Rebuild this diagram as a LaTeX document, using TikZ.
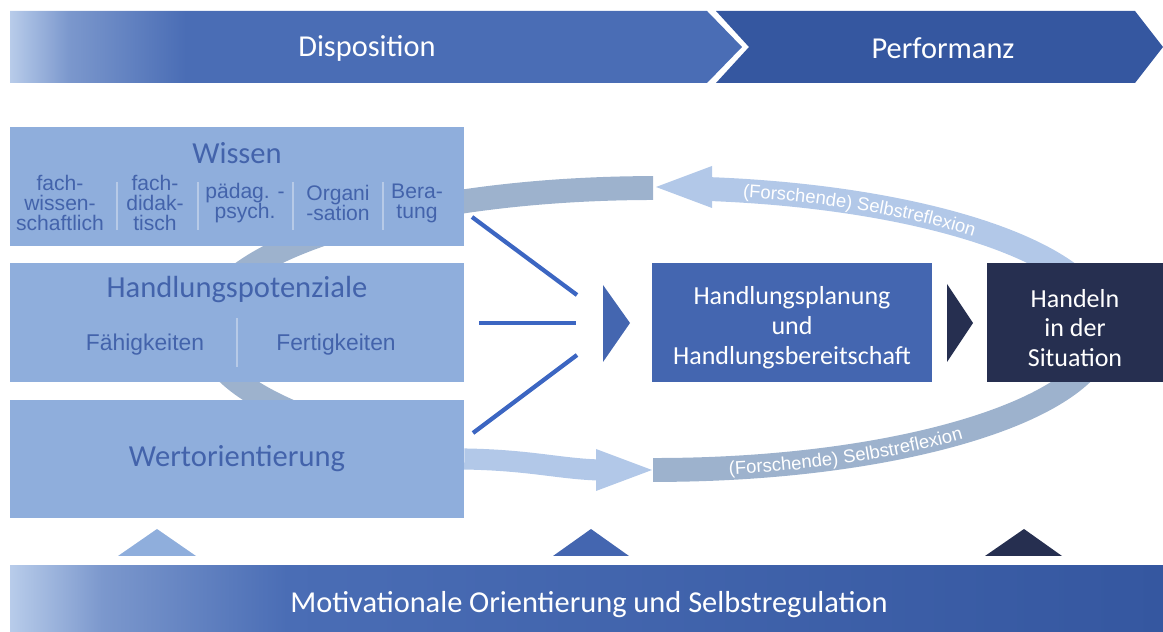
\documentclass[tikz,border=0pt]{standalone}
\usepackage{fontspec}
\setmainfont{Carlito}
\newfontfamily\arialfont{Liberation Sans}
\usepackage{tikz}
\usetikzlibrary{decorations.text}

\definecolor{gradlight}{HTML}{B8CCEA}
\definecolor{dispblue}{HTML}{4A6DB5}
\definecolor{perfblue}{HTML}{3557A0}
\colorlet{gradmid}{gradlight!45!dispblue}
\definecolor{boxlight}{HTML}{8FAEDC}
\definecolor{boxtext}{HTML}{4363AB}
\definecolor{planblue}{HTML}{4466B0}
\definecolor{navy}{HTML}{262F50}
\definecolor{ringgrey}{HTML}{9DB2CD}
\definecolor{ringlight}{HTML}{B2C8E8}
\definecolor{fanblue}{HTML}{3C66C2}
\definecolor{divline}{HTML}{B7CAE7}

\pgfdeclarehorizontalshading{dispshade}{100bp}{color(0bp)=(gradlight); color(25bp)=(gradlight);
  color(29bp)=(gradmid); color(37bp)=(dispblue); color(100bp)=(dispblue)}
\pgfdeclarehorizontalshading{motishade}{100bp}{color(0bp)=(gradlight); color(25bp)=(gradlight);
  color(29bp)=(gradmid); color(37bp)=(dispblue); color(75bp)=(perfblue); color(100bp)=(perfblue)}

\begin{document}
\begin{tikzpicture}[x=0.02cm, y=0.02cm,
    leftbox/.style={rectangle, fill=boxlight, inner sep=0pt, minimum width=9.08cm, minimum height=2.38cm},
    boxtitle/.style={text=boxtext, font=\fontsize{17.4}{20}\selectfont},
    boxsmall/.style={text=boxtext, align=center, font=\arialfont\fontsize{12}{11.4}\selectfont},
    boxsub/.style={text=boxtext, font=\arialfont\fontsize{13}{15}\selectfont},
    bannertext/.style={text=white, font=\fontsize{17.3}{20}\selectfont},
    rightbox/.style={rectangle, inner sep=0pt, minimum height=2.38cm, text=white, align=center,
      font=\fontsize{14.8}{17}\selectfont},
    ringband/.style={draw=ringgrey, line width=13.6pt},
    lightband/.style={draw=ringlight, line width=13.6pt},
    fanline/.style={draw=fanblue, line width=2.4pt},
    divider/.style={draw=divline, line width=0.6pt},
    reflexion/.style={decorate, decoration={text along path, text align=center, raise=-3.8pt,
      text color=white, text={|\arialfont\fontsize{10.5}{12}\selectfont|(Forschende) Selbstreflexion}}}
  ]
\useasboundingbox (0,0) rectangle (1163,632);

% banner
\shade[shading=dispshade] (10,621) -- (707,621) -- (742,585) -- (707,549) -- (10,549) -- cycle;
\fill[perfblue] (716,621) -- (1135,621) -- (1163,585) -- (1135,549) -- (716,549) -- (749,585) -- cycle;
\node[bannertext] (dispo) at (367,584) {Disposition};
\node[bannertext] (perf) at (943,584) {Performanz};

% ring
\coordinate (ring) at (655,303);
\draw[ringband] ([shift={(90.25:9cm and 2.82cm)}]ring) arc[start angle=90.25, end angle=240, x radius=9cm, y radius=2.82cm];
\draw[ringband] ([shift={(-90.25:9cm and 2.82cm)}]ring) arc[start angle=-90.25, end angle=-12, x radius=9cm, y radius=2.82cm];
\draw[lightband] ([shift={(84:9cm and 2.82cm)}]ring) arc[start angle=84, end angle=12, x radius=9cm, y radius=2.82cm];
\fill[ringlight] (656,445) -- (712,466) -- (712,424) -- cycle;
\path[reflexion] ([shift={(82:9cm and 2.82cm)}]ring) arc[start angle=82, end angle=40, x radius=9cm, y radius=2.82cm];
\path[reflexion] ([shift={(-90.25:9cm and 2.82cm)}]ring) arc[start angle=-90.25, end angle=-33, x radius=9cm, y radius=2.82cm];

% left boxes
\node[leftbox] (wissen) at (237,445.5) {};
\node[boxtitle] (wissentitle) at (237,479) {Wissen};
\node[boxsmall] (fw) at (60,429) {fach-\\wissen-\\schaftlich};
\node[boxsmall] (fd) at (155,429) {fach-\\didak-\\tisch};
\node[boxsmall] (pp) at (245,429) {pädag. -\\psych.};
\node[boxsmall] (org) at (338,429) {Organi\\-sation};
\node[boxsmall] (ber) at (417,429) {Bera-\\tung};
\foreach \x in {117,198,293,383}
  \draw[divider] (\x,450) -- (\x,402);

\node[leftbox] (potenz) at (237,309.5) {};
\node[boxtitle] (potenztitle) at (237,342) {Handlungspotenziale};
\node[boxsub] (faehig) at (145,287) {Fähigkeiten};
\node[boxsub] (fertig) at (336,287) {Fertigkeiten};
\draw[divider] (237,314) -- (237,265);

\node[leftbox, minimum height=2.36cm, boxtitle] (wert) at (237,173) {Wertorientierung};

% arrow to ring
\draw[draw=ringlight, line width=12pt] (wert.east) .. controls (530,172) and (560,163) .. (600,162);
\fill[ringlight] (596,183) -- (652,162) -- (596,141) -- cycle;

% fan
\coordinate (f1) at (472,415);
\coordinate (f2) at (479,309);
\coordinate (f3) at (473,199);
\coordinate (g1) at (577,337);
\coordinate (g2) at (576,309);
\coordinate (g3) at (577,277);
\draw[fanline] (f1) -- (g1);
\draw[fanline] (f2) -- (g2);
\draw[fanline] (f3) -- (g3);
\fill[planblue] (603,347) -- (630,309) -- (603,270) -- cycle;

% right boxes
\node[rightbox, fill=planblue, minimum width=5.6cm] (planung) at (792,309.5)
  {\rule{0pt}{16.5pt}Handlungsplanung\\und\\Handlungsbereitschaft};
\fill[navy] (947,348) -- (973,309) -- (947,270) -- cycle;
\node[rightbox, fill=navy, minimum width=3.52cm] (handeln) at (1075,309.5)
  {\rule{0pt}{16.5pt}Handeln\\in der\\Situation};

% bottom
\fill[boxlight] (118,76) -- (196,76) -- (157,103) -- cycle;
\fill[planblue] (553,76) -- (629,76) -- (591,103) -- cycle;
\fill[navy] (985,76) -- (1062,76) -- (1024,103) -- cycle;
\shade[shading=motishade] (10,0) rectangle (1163,66);
\node[bannertext] (moti) at (589,27) {Motivationale Orientierung und Selbstregulation};
\end{tikzpicture}
\end{document}
